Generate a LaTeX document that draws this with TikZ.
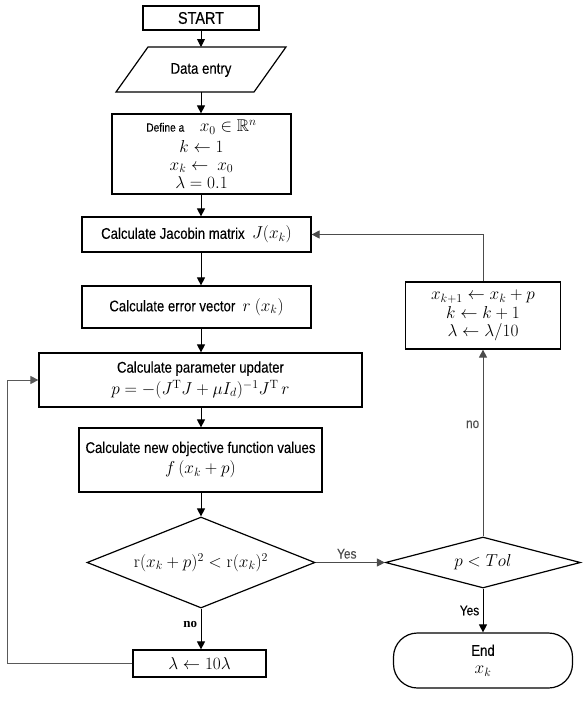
\documentclass[tikz,border=0pt]{standalone}
\usepackage{amsmath,amssymb}
\usepackage[no-math]{fontspec}
\setmainfont[FakeStretch=0.85,FakeBold=0.2]{Liberation Sans}
\newfontfamily\serifno{Liberation Serif}
\newcommand\mth[1]{{\fontsize{17}{17}\selectfont$#1$}}
\usetikzlibrary{arrows.meta,shapes.geometric}
\begin{document}
\begin{tikzpicture}[x=1pt,y=-1pt,
  font=\fontsize{15.5}{17}\selectfont,
  box/.style={draw, line width=1.2pt, inner sep=0pt, align=center},
  dia/.style={draw, diamond, line width=1.2pt, inner sep=0pt},
  conn/.style={line width=0.9pt, -{Triangle[length=8pt,width=8pt]}},
  lbl/.style={font=\fontsize{14}{16}\selectfont}]
\useasboundingbox (0,0) rectangle (584,702);

\node[box, minimum width=116, minimum height=24, font=\fontsize{17}{19}\selectfont] (start) at (201,18) {START};
\coordinate (dtop) at (201,47);
\coordinate (dbot) at (201,92);
\draw[line width=1.2pt] (148,47) -- (286,47) -- (254,92) -- (116,92) -- cycle;
\node (data) at (201,70) {Data entry};

\node[box, minimum width=179, minimum height=80] (define) at (201.5,154)
  {{\fontsize{12}{13}\selectfont Define a}\quad \mth{x_0\in\mathbb{R}^n}\\[3.5pt] \mth{k\leftarrow 1}\\[1pt] \mth{x_k\leftarrow\ x_0}\\[1pt] \mth{\lambda=0.1}};

\node[box, minimum width=229, minimum height=35] (jac) at (196.5,234.5)
  {Calculate Jacobin matrix\ \ \mth{J(x_k)}};
\node[box, minimum width=229, minimum height=42] (err) at (196.5,307)
  {Calculate error vector\ \ \mth{r\ (x_k)}};
\node[box, minimum width=323, minimum height=54] (param) at (200.5,380)
  {Calculate parameter updater\\[3pt] \mth{p=-(J^{\mathrm T}J+\mu I_d)^{-1}J^{\mathrm T}\,r}};
\node[box, minimum width=243, minimum height=64] (obj) at (200.5,460)
  {Calculate new objective function values\\[4pt] \mth{f\,(x_k+p)}};
\node[dia, aspect=2.5, minimum width=228, minimum height=91] (d1) at (201,562.5)
  {\mth{\mathrm{r}(x_k+p)^2<\mathrm{r}(x_k)^2}};
\node[box, minimum width=133, minimum height=27] (lam) at (199.5,663.5)
  {\mth{\lambda\leftarrow 10\lambda}};
\node[dia, aspect=3.8, minimum width=195, minimum height=51] (d2) at (483,562.5)
  {\mth{p<Tol}};
\node[box, rounded corners=24, minimum width=179, minimum height=55] (end) at (483,660.5)
  {End\\[1pt] \mth{x_k}};
\node[box, minimum width=155, minimum height=67] (upd) at (483,315.5)
  {\mth{x_{k+1}\leftarrow x_k+p}\\[1.5pt] \mth{k\leftarrow k+1}\\[1.5pt] \mth{\lambda\leftarrow\lambda/10}};

\coordinate (loop) at (7,380);

\draw[conn] (start) -- (dtop);
\draw[conn] (dbot) -- (dbot |- define.north);
\draw[conn] (define.south -| dbot) -- (jac.north -| dbot);
\draw[conn] (jac.south -| dbot) -- (err.north -| dbot);
\draw[conn] (err.south -| dbot) -- (param.north -| dbot);
\draw[conn] (param.south -| dbot) -- (obj.north -| dbot);
\draw[conn] (obj.south -| dbot) -- (d1.north);
\draw[conn] (d1.south) -- node[left, pos=0.4, font=\serifno\bfseries\fontsize{13}{15}\selectfont]{no} (d1.south |- lam.north);
\draw[conn, gray!70!black] (lam.west) -| (loop) -- (param.west);
\draw[conn, gray!60!black] (d1.east) -- node[above, pos=0.45, lbl]{Yes} (d2.west);
\draw[conn] (d2.south) -- node[left, lbl]{Yes} (end.north);
\draw[conn, gray!60!black] (d2.north) -- node[left, pos=0.6, lbl]{no} (upd.south);
\draw[conn, gray!60!black] (upd.north) |- (jac.east);
\end{tikzpicture}
\end{document}
